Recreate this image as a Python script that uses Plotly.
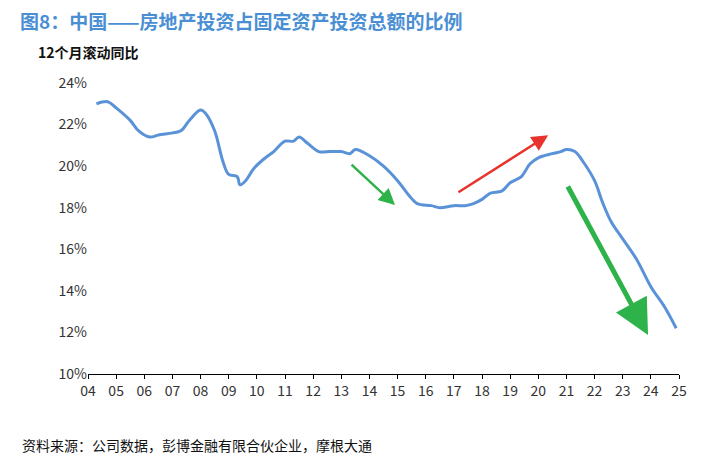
import plotly.graph_objects as go

years = [2004.3, 2004.7, 2005.0, 2005.5, 2005.8, 2006.2, 2006.5, 2007.0, 2007.3, 2007.6,
         2008.0, 2008.2, 2008.5, 2008.8, 2009.0, 2009.3, 2009.4, 2009.6, 2009.9, 2010.3,
         2010.6, 2011.0, 2011.3, 2011.5, 2011.8, 2012.2, 2012.6, 2013.0, 2013.3, 2013.5,
         2014.0, 2014.5, 2015.0, 2015.4, 2015.7, 2016.2, 2016.5, 2017.0, 2017.4, 2017.7,
         2018.0, 2018.3, 2018.7, 2019.0, 2019.4, 2019.7, 2020.0, 2020.5, 2020.8, 2021.0,
         2021.3, 2021.6, 2022.0, 2022.3, 2022.6, 2023.0, 2023.5, 2024.0, 2024.5, 2024.9]
share = [23.0, 23.1, 22.8, 22.2, 21.7, 21.4, 21.5, 21.6, 21.7, 22.2,
         22.7, 22.5, 21.7, 20.2, 19.6, 19.5, 19.1, 19.3, 19.9, 20.4,
         20.7, 21.2, 21.2, 21.4, 21.1, 20.7, 20.7, 20.7, 20.6, 20.8,
         20.5, 20.0, 19.3, 18.6, 18.2, 18.1, 18.0, 18.1, 18.1, 18.2,
         18.4, 18.7, 18.8, 19.2, 19.5, 20.1, 20.4, 20.6, 20.7, 20.8,
         20.7, 20.2, 19.3, 18.2, 17.3, 16.5, 15.5, 14.2, 13.2, 12.2]

tick_vals = list(range(2004, 2026))
tick_text = ["%02d" % (y % 100) for y in tick_vals]
y_vals = [10, 12, 14, 16, 18, 20, 22, 24]
y_text = ["%d%%" % v for v in y_vals]

# arrows: (tail_x, tail_y, head_x, head_y, colour, width)
arrows = [
    (2013.31, 20.14, 2014.91, 18.13, "#2eb24a", 2.5),
    (2017.11, 18.70, 2020.35, 21.49, "#e8322c", 2.5),
    (2021.02, 19.09, 2023.90, 11.88, "#2eb24a", 5),
]

fig = go.Figure()
fig.add_trace(go.Scatter(x=years, y=share, mode="lines",
                         line=dict(color="#5a92d8", width=3, shape="spline")))

for x0, y0, x1, y1, c, w in arrows:
    fig.add_annotation(x=x1, y=y1, ax=x0, ay=y0, xref="x", yref="y", axref="x", ayref="y",
                       showarrow=True, arrowhead=2, arrowsize=1.3 if w < 4 else 1.4,
                       arrowwidth=w, arrowcolor=c, text="")

fig.add_annotation(x=0, y=1, xref="paper", yref="paper", xshift=-70, yshift=78,
                   xanchor="left", yanchor="top", showarrow=False,
                   text="<b>图8：中国——房地产投资占固定资产投资总额的比例</b>",
                   font=dict(size=19, color="#4a8fd4"))
fig.add_annotation(x=0, y=1, xref="paper", yref="paper", xshift=-52, yshift=43,
                   xanchor="left", yanchor="top", showarrow=False,
                   text="<b>12个月滚动同比</b>", font=dict(size=14, color="#111"))
fig.add_annotation(x=0, y=0, xref="paper", yref="paper", xshift=-68, yshift=-59,
                   xanchor="left", yanchor="top", showarrow=False,
                   text="资料来源：公司数据，彭博金融有限合伙企业，摩根大通",
                   font=dict(size=14, color="#111"))

fig.update_layout(
    width=707, height=472, margin=dict(l=80, r=36, t=75, b=106),
    plot_bgcolor="white", paper_bgcolor="white", showlegend=False,
    font=dict(family="Noto Sans CJK SC", size=14, color="#333"),
    xaxis=dict(range=[2004, 2025], tickvals=tick_vals, ticktext=tick_text,
               showgrid=False, showline=True, linecolor="black", ticks="outside",
               ticklen=4, tickcolor="black", zeroline=False),
    yaxis=dict(range=[10, 24], tickvals=y_vals, ticktext=y_text, showgrid=False,
               showline=False, zeroline=False),
)
fig.write_html("out.html")
